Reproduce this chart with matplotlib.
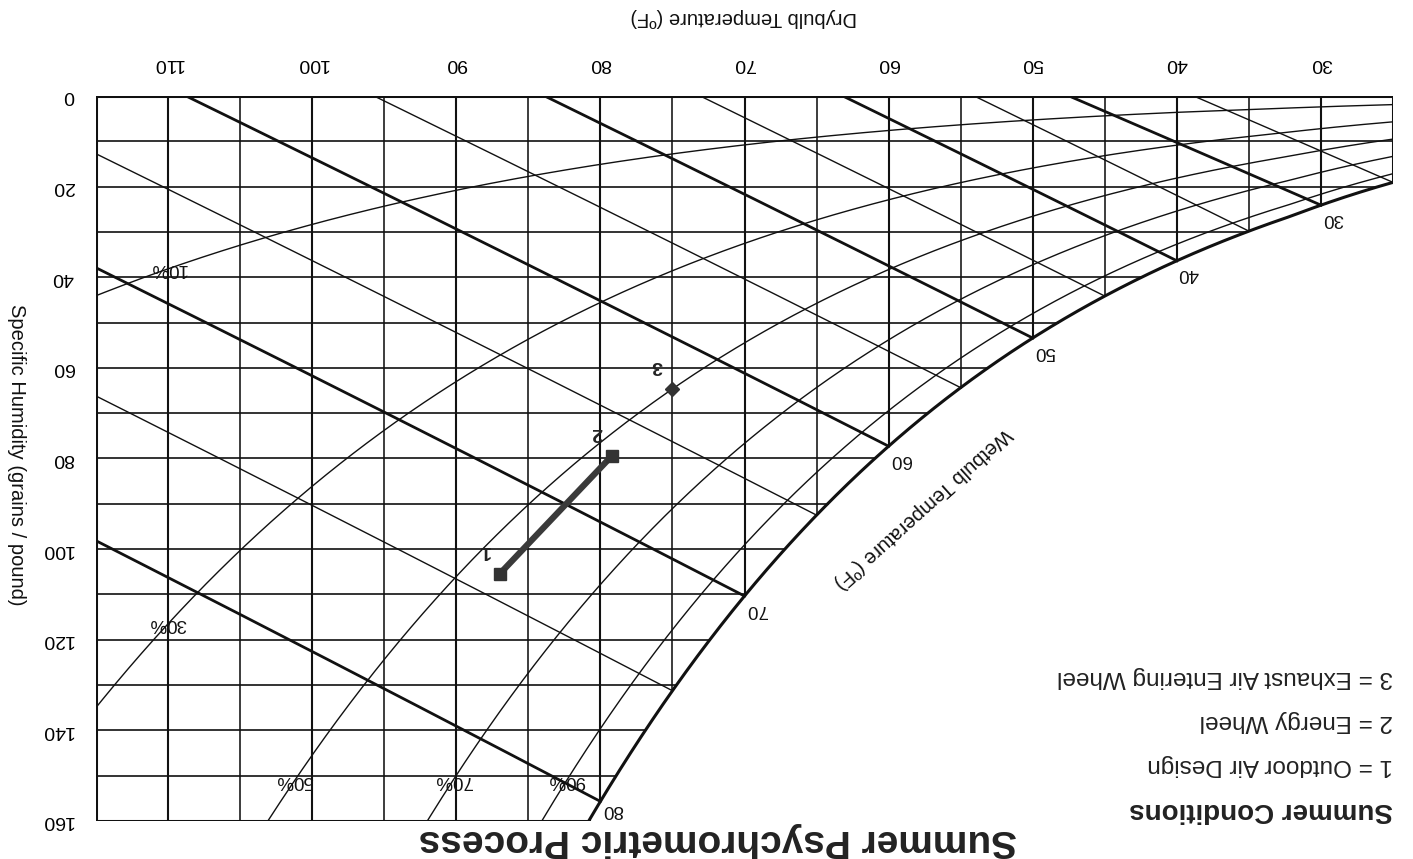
import numpy as np
import matplotlib.pyplot as plt

plt.rcParams['font.family'] = ['Liberation Sans', 'DejaVu Sans']

# Chart range and ticks
db_min, db_max = 25, 115          # drybulb, F
gr_max = 160                      # grains / lb
db_ticks = [30, 40, 50, 60, 70, 80, 90, 100, 110]
gr_ticks = [0, 20, 40, 60, 80, 100, 120, 140, 160]

rh_levels = [10, 30, 50, 70, 90]
wb_levels = [25, 30, 35, 40, 45, 50, 55, 60, 65, 70, 75, 80]
wb_labeled = [30, 40, 50, 60, 70, 80]

# Summer process states
state_names = ['1', '2', '3']
state_db = [87.0, 79.2, 75.0]
state_gr = [105.5, 79.4, 64.6]

legend_title = 'Summer Conditions'
legend_lines = ['1 = Outdoor Air Design',
                '2 = Energy Wheel',
                '3 = Exhaust Air Entering Wheel']

P_ATM = 14.696  # psia


def p_sat(t):
    # ASHRAE saturation pressure (psia), t in F
    t = np.asarray(t, float)
    T = t + 459.67
    liq = np.exp(-1.0440397e4 / T - 1.1294650e1 - 2.7022355e-2 * T
                 + 1.2890360e-5 * T**2 - 2.4780681e-9 * T**3
                 + 6.5459673 * np.log(T))
    ice = np.exp(-1.0214165e4 / T - 4.8932428 - 5.3765794e-3 * T
                 + 1.9202377e-7 * T**2 + 3.5575832e-10 * T**3
                 - 9.0344688e-14 * T**4 + 4.1635019 * np.log(T))
    return np.where(t >= 32, liq, ice)


def w_lb(pw):
    return 0.621945 * pw / (P_ATM - pw)


def grains_rh(t, rh):
    return 7000 * w_lb(rh / 100.0 * p_sat(t))


def grains_wb(t, twb):
    ws = w_lb(p_sat(twb))
    if twb >= 32:
        w = ((1093 - 0.556 * twb) * ws - 0.240 * (t - twb)) / (1093 + 0.444 * t - twb)
    else:
        w = ((1220 - 0.04 * twb) * ws - 0.240 * (t - twb)) / (1220 + 0.444 * t - 0.48 * twb)
    return 7000 * w


# saturation curve and dew point lookup
t_fine = np.linspace(db_min, db_max, 1801)
sat_fine = grains_rh(t_fine, 100)


def dew_point(gr):
    return np.interp(gr, sat_fine, t_fine)


W_PX, H_PX = 1413, 859
fig = plt.figure(figsize=(W_PX / 100, H_PX / 100), dpi=100)
ax = fig.add_axes([96 / W_PX, 1 - 821 / H_PX, (1393 - 96) / W_PX, (821 - 96) / H_PX])
ax.set_xlim(db_max, db_min)
ax.set_ylim(gr_max, 0)
for s in ax.spines.values():
    s.set_visible(False)

ink = '#111111'

# vertical drybulb lines up to saturation
for t in range(30, 115, 5):
    top = min(grains_rh(t, 100), gr_max)
    ax.plot([t, t], [0, top], color=ink, lw=1.5 if t % 10 == 0 else 1.15)

# horizontal humidity lines out to saturation
for g in range(10, gr_max, 10):
    ax.plot([db_max, dew_point(g)], [g, g], color=ink, lw=1.2)

# relative humidity curves
for rh in rh_levels:
    g = grains_rh(t_fine, rh)
    m = g <= gr_max
    ax.plot(t_fine[m], g[m], color=ink, lw=1.0)

# wetbulb lines
for twb in wb_levels:
    t = np.linspace(twb, db_max, 400)
    g = grains_wb(t, twb)
    m = g >= 0
    ax.plot(t[m], g[m], color=ink, lw=2.0 if twb % 10 == 0 else 1.0)

# outline: saturation curve and edges
m = sat_fine <= gr_max
t_end = dew_point(gr_max)
ax.plot(np.r_[t_fine[m], t_end], np.r_[sat_fine[m], gr_max], color=ink, lw=2.2)
ax.plot([db_max, db_min, db_min], [0, 0, grains_rh(db_min, 100)], color=ink, lw=2.2)
ax.plot([db_max, db_max, t_end], [0, gr_max, gr_max], color=ink, lw=2.2)

# RH labels
for rh in rh_levels:
    if rh <= 30:
        lx, ly = 110, grains_rh(110, rh)
    else:
        ly = 151
        lx = np.interp(ly, grains_rh(t_fine, rh), t_fine)
    ax.text(lx, ly, f'{rh}%', fontsize=13.5, rotation=180, ha='center', va='center', color=ink)

# wetbulb labels on the saturation curve
for twb in wb_labeled:
    dy = -6 if twb == 80 else -9.5
    ax.annotate(str(twb), (twb, grains_rh(twb, 100)), xytext=(8.5, dy),
                textcoords='offset points', fontsize=13.5, rotation=180,
                ha='center', va='center', color=ink)

# process line and states
ax.plot(state_db[:2], state_gr[:2], color='#3a3a3a', lw=4.5, solid_capstyle='butt', zorder=5)
ax.plot(state_db[:2], state_gr[:2], 's', color='#333333', ms=8.5, zorder=6)
ax.plot(state_db[2:], state_gr[2:], 'D', color='#333333', ms=7, zorder=6)
for name, x, y in zip(state_names, state_db, state_gr):
    ax.annotate(name, (x, y), xytext=(-11, 17), textcoords='offset points',
                fontsize=14, fontweight='bold', rotation=180,
                ha='center', va='center', color='#222222')

# ticks
ax.xaxis.tick_top()
ax.set_xticks(db_ticks)
ax.set_yticks(gr_ticks)
ax.tick_params(axis='x', length=0, pad=17, labelsize=14, labelrotation=180)
ax.tick_params(axis='y', length=0, pad=16, labelsize=14, labelrotation=180)
for lbl in ax.get_yticklabels():
    lbl.set_va('center')


def px(x, y):
    return x / W_PX, 1 - y / H_PX


fig.text(*px(744, 17), 'Drybulb Temperature (ºF)', fontsize=14.5, rotation=180,
         ha='center', va='center', color=ink)
fig.text(*px(16, 455), 'Specific Humidity (grains / pound)', fontsize=14.5,
         rotation=270, ha='center', va='center', color=ink)
fig.text(*px(923, 508), 'Wetbulb Temperature (ºF)', fontsize=14.5, rotation=222,
         ha='center', va='center', color=ink, rotation_mode='anchor')

fig.text(*px(718, 840), 'Summer Psychrometric Process', fontsize=28,
         fontweight='bold', rotation=180, ha='center', va='center', color='#222222')

fig.text(*px(1393, 810), legend_title, fontsize=20, fontweight='bold',
         rotation=180, ha='right', va='center', color='#222222')
for i, line in enumerate(legend_lines):
    fig.text(*px(1393, 765 - 44 * i), line, fontsize=17.5, rotation=180,
             ha='right', va='center', color='#222222')

fig.savefig('out.png', dpi=100)
